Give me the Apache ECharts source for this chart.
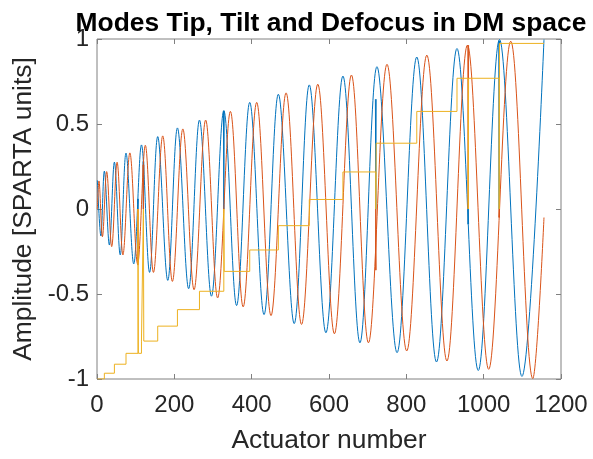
<!DOCTYPE html>
<html>
<head>
<meta charset="utf-8">
<script src="https://cdn.jsdelivr.net/npm/echarts@6/dist/echarts.min.js"></script>
<style>
  html, body { margin: 0; padding: 0; background: #ffffff; }
  #chart { width: 593px; height: 459px; }
</style>
</head>
<body>
<div id="chart"></div>
<script>
// Tip mode: peaks at each ring start, troughs at ring middle  [actuator, amplitude]
const tipExtrema = [
  [1, 0.168], [10, -0.159], [19, 0.223], [32, -0.212], [45, 0.276], [60, -0.27],
  [75, 0.329], [95, -0.323], [115, 0.377], [136, -0.373], [157, 0.426], [183, -0.42],
  [208, 0.477], [237, -0.469], [265, 0.523], [296, -0.513], [328, 0.578], [361, -0.568],
  [395, 0.627], [432, -0.621], [469, 0.675], [510, -0.674], [549, 0.730], [592, -0.728],
  [636, 0.782], [680, -0.787], [724, 0.837], [776, -0.845], [827, 0.894], [878, -0.9],
  [931, 0.944], [986, -0.95], [1041, 0.997], [1099, -0.985], [1156, 0.997]
];

// Tilt mode: zero at ring start, peak at a quarter turn, trough at three quarters
const tiltExtrema = [
  [1, 0], [5, 0.165], [14, -0.163], [25, 0.22], [38, -0.221], [52, 0.275], [67, -0.27],
  [85, 0.33], [105, -0.323], [125, 0.375], [146, -0.373], [170, 0.43], [195, -0.426],
  [222, 0.471], [251, -0.475], [281, 0.523], [312, -0.523], [345, 0.574], [378, -0.576],
  [413, 0.627], [450, -0.627], [489, 0.683], [529, -0.679], [571, 0.734], [614, -0.734],
  [658, 0.788], [702, -0.787], [750, 0.851], [801, -0.835], [853, 0.905], [905, -0.894],
  [958, 0.964], [1013, -0.943], [1070, 0.987], [1127, -0.997], [1156, -0.05]
];

// Defocus mode: one constant level per ring (short drops to zero on idle actuators)
const defocusX = [1, 19, 45, 75, 106, 107, 115, 120, 121, 157, 208, 265, 328, 329,
  395, 469, 549, 636, 721, 722, 827, 931, 960, 961, 1040, 1041, 1156];
const defocusY = [-1.0, -0.966, -0.913, -0.849, 0, -0.849, -0.777, 0, -0.777, -0.689,
  -0.592, -0.484, 0, -0.367, -0.241, -0.098, 0.056, 0.218, 0, 0.387, 0.574, 0.769,
  0, 0.769, 0, 0.974, 0.974];

// Idle actuators: all modes read zero there
const idleActuators = [106, 120, 328, 721, 960, 1040];
const idleTipNeighbour = [0.06, 0.28, 0.578, 0.646, -0.09, 0.99];
const idleTiltNeighbour = [-0.33, 0.26, 0.0, -0.36, 0.964, -0.05];

// Axis ticks
const xTickValues = [0, 200, 400, 600, 800, 1000, 1200];
const yTickValues = [-1, -0.5, 0, 0.5, 1];

const BLUE = '#0072BD', RED = '#D95319', YELLOW = '#EDB120';
const AXIS_GREY = '#808080', TEXT = '#262626';
const FONT = 'Liberation Sans, Arial, Helvetica, sans-serif';

const defocusData = defocusX.map((x, i) => [x, defocusY[i]]);

function idleSpike(x, v) {
  return [[x - 1, v], [x, 0], [x + 1, v]];
}

function lineSeries(name, data, color, extra) {
  return Object.assign({
    name: name,
    type: 'line',
    data: data,
    showSymbol: false,
    symbol: 'none',
    lineStyle: { color: color, width: 1 },
    itemStyle: { color: color },
    animation: false,
    silent: true,
    xAxisIndex: 0,
    yAxisIndex: 0
  }, extra || {});
}

const series = [];
series.push(lineSeries('Tip', tipExtrema, BLUE, { smooth: 0.36 }));
idleActuators.forEach((x, i) => series.push(lineSeries('Tip idle ' + i, idleSpike(x, idleTipNeighbour[i]), BLUE)));
series.push(lineSeries('Tilt', tiltExtrema, RED, { smooth: 0.36 }));
idleActuators.forEach((x, i) => series.push(lineSeries('Tilt idle ' + i, idleSpike(x, idleTiltNeighbour[i]), RED)));
series.push(lineSeries('Defocus', defocusData, YELLOW, { step: 'end' }));

const xMin = xTickValues[0], xMax = xTickValues[xTickValues.length - 1];
const xStep = xTickValues[1] - xTickValues[0];
const yMin = yTickValues[0], yMax = yTickValues[yTickValues.length - 1];
const yStep = yTickValues[1] - yTickValues[0];

const tickStyle = { show: true, inside: true, length: 5, lineStyle: { color: AXIS_GREY, width: 1 } };
const labelStyle = { color: TEXT, fontSize: 24, fontFamily: FONT, formatter: v => String(v) };
const hiddenLine = { show: false, onZero: false };

const chart = echarts.init(document.getElementById('chart'), null, { renderer: 'canvas' });
chart.setOption({
  backgroundColor: '#ffffff',
  animation: false,
  title: {
    text: 'Modes Tip, Tilt and Defocus in DM space',
    left: 326, top: 6, textAlign: 'center',
    textStyle: { color: '#000000', fontSize: 26.4, fontWeight: 'bold', fontFamily: FONT }
  },
  grid: {
    left: 97, right: 32, top: 39, bottom: 77,
    show: true, borderColor: AXIS_GREY, borderWidth: 1, backgroundColor: 'transparent'
  },
  xAxis: [
    {
      type: 'value', min: xMin, max: xMax, interval: xStep, position: 'bottom',
      name: 'Actuator number', nameLocation: 'middle', nameGap: 49,
      nameTextStyle: { color: TEXT, fontSize: 26.4, fontFamily: FONT },
      axisLine: hiddenLine, axisTick: tickStyle, splitLine: { show: false },
      axisLabel: Object.assign({ margin: 14 }, labelStyle)
    },
    {
      type: 'value', min: xMin, max: xMax, interval: xStep, position: 'top',
      axisLine: hiddenLine, axisTick: tickStyle, splitLine: { show: false },
      axisLabel: { show: false }
    }
  ],
  yAxis: [
    {
      type: 'value', min: yMin, max: yMax, interval: yStep, position: 'left',
      name: 'Amplitude [SPARTA units]', nameLocation: 'middle', nameGap: 51,
      nameTextStyle: { color: TEXT, fontSize: 26.4, fontFamily: FONT },
      axisLine: hiddenLine, axisTick: tickStyle, splitLine: { show: false },
      axisLabel: Object.assign({ margin: 8 }, labelStyle)
    },
    {
      type: 'value', min: yMin, max: yMax, interval: yStep, position: 'right',
      axisLine: hiddenLine, axisTick: tickStyle, splitLine: { show: false },
      axisLabel: { show: false }
    }
  ],
  series: series
});
</script>
</body>
</html>
